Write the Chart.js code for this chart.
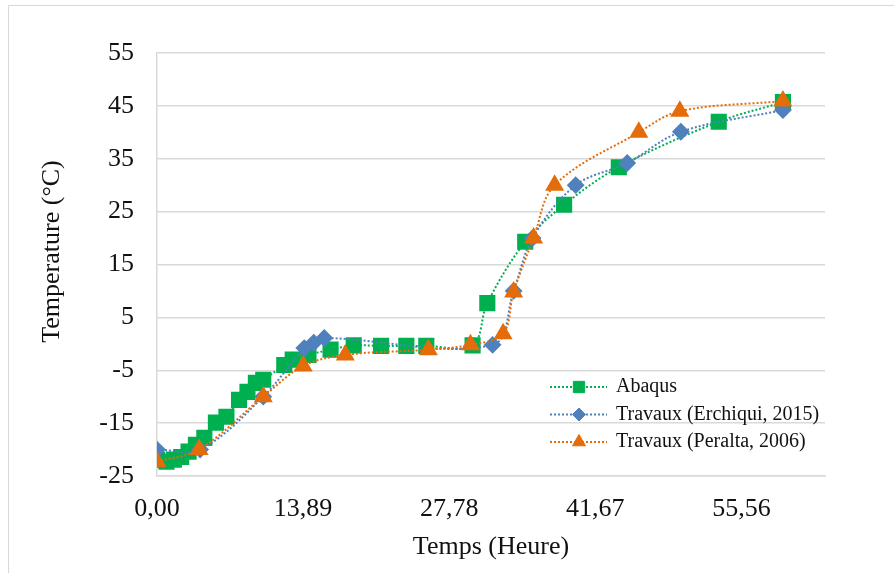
<!DOCTYPE html>
<html>
<head>
<meta charset="utf-8">
<script src="https://cdn.jsdelivr.net/npm/chart.js@4.4.1/dist/chart.umd.min.js"></script>
<style>
    body { margin: 0; background: #fff; }
    #frame { position: absolute; left: 8px; top: 5px; width: 900px; height: 600px; border: 1px solid #d9d9d9; }
    #chart { position: absolute; left: 0; top: 0; }
</style>
</head>
<body>
<div id="frame"></div>
<canvas id="chart" width="894" height="573"></canvas>
<script>
// Abaqus
const abaqusX = [0, 0.9, 1.6, 2.3, 3.0, 3.7, 4.5, 5.6, 6.6, 7.8, 8.6, 9.4, 10.1, 12.1, 12.9, 14.4, 16.5, 18.7, 21.3, 23.7, 25.6, 30.0, 31.4, 35.0, 38.7, 43.9, 53.4, 59.5];
const abaqusY = [-21.9, -22.3, -21.9, -21.4, -20.4, -19.1, -17.8, -14.9, -13.8, -10.6, -9.1, -7.4, -6.8, -4.0, -3.0, -2.1, -1.1, -0.3, -0.4, -0.4, -0.4, -0.3, 7.7, 19.3, 26.3, 33.4, 42.0, 45.7];

// Travaux (Erchiqui, 2015)
const erchiquiX = [0, 4.1, 10.1, 14.0, 14.9, 15.9, 31.9, 33.9, 35.7, 39.8, 44.7, 49.8, 59.5];
const erchiquiY = [-20, -20, -10, -0.8, 0.2, 1.1, -0.2, 10, 20, 30, 34.2, 40.1, 44.2];

// Travaux (Peralta, 2006)
const peraltaX = [0, 4.0, 10.1, 13.9, 17.9, 25.8, 29.8, 32.9, 33.9, 35.8, 37.8, 45.8, 49.7, 59.5];
const peraltaY = [-22.3, -20, -10, -4.2, -2.1, -1.1, -0.2, 1.9, 9.8, 20, 30, 40, 44, 45.9];

const seriesLabels = ["Abaqus", "Travaux (Erchiqui, 2015)", "Travaux (Peralta, 2006)"];
const xTickStep = 13.89;

function toPoints(xs, ys) {
    return xs.map((x, i) => ({ x: x, y: ys[i] }));
}

const SERIF = '"Liberation Serif", "Times New Roman", serif';
Chart.defaults.font.family = SERIF;
Chart.defaults.color = "#111";

const legendRadius = [8, 6.5, 7.5];

const insideLegend = {
    id: "insideLegend",
    afterDraw(chart) {
        const ctx = chart.ctx;
        const area = chart.chartArea;
        const x0 = area.left + 393;
        chart.data.datasets.forEach((ds, i) => {
            const y = area.top + 334 + i * 27.5;
            ctx.save();
            ctx.strokeStyle = ds.borderColor;
            ctx.lineWidth = 2;
            ctx.setLineDash([2, 2]);
            ctx.beginPath();
            ctx.moveTo(x0, y);
            ctx.lineTo(x0 + 57, y);
            ctx.stroke();
            ctx.restore();

            ctx.save();
            ctx.fillStyle = ds.backgroundColor;
            ctx.strokeStyle = ds.backgroundColor;
            Chart.helpers.drawPoint(ctx, { pointStyle: ds.pointStyle, radius: legendRadius[i], borderWidth: 1, rotation: 0 }, x0 + 29, y);
            ctx.restore();

            ctx.save();
            ctx.fillStyle = "#111";
            ctx.font = "20px " + SERIF;
            ctx.textBaseline = "middle";
            ctx.fillText(ds.label, x0 + 66, y);
            ctx.restore();
        });
    }
};

new Chart(document.getElementById("chart").getContext("2d"), {
    type: "line",
    data: {
        datasets: [{
            label: seriesLabels[0],
            data: toPoints(abaqusX, abaqusY),
            borderColor: "#00B050",
            backgroundColor: "#00B050",
            pointStyle: "rect",
            pointRadius: 10,
            borderWidth: 2,
            borderDash: [2, 2],
            tension: 0.35,
            order: 3
        }, {
            label: seriesLabels[1],
            data: toPoints(erchiquiX, erchiquiY),
            borderColor: "#4F81BD",
            backgroundColor: "#4F81BD",
            pointStyle: "rectRot",
            pointRadius: 7.5,
            borderWidth: 2,
            borderDash: [2, 2],
            tension: 0.35,
            order: 2
        }, {
            label: seriesLabels[2],
            data: toPoints(peraltaX, peraltaY),
            borderColor: "#E46C0A",
            backgroundColor: "#E46C0A",
            pointStyle: "triangle",
            pointRadius: 9,
            borderWidth: 2,
            borderDash: [2, 2],
            tension: 0.35,
            order: 1
        }]
    },
    options: {
        responsive: false,
        animation: false,
        layout: { padding: { top: 53, right: 69, left: 0, bottom: 0 } },
        plugins: {
            legend: { display: false },
            tooltip: { enabled: false }
        },
        scales: {
            x: {
                type: "linear",
                min: 0,
                max: 63.5,
                afterFit: s => { s.height = 97; },
                grid: { display: false, drawTicks: false },
                border: { display: true, color: "#d9d9d9", width: 1.5 },
                ticks: {
                    stepSize: xTickStep,
                    includeBounds: false,
                    autoSkip: false,
                    maxRotation: 0,
                    padding: 18,
                    font: { size: 26 },
                    callback: v => v.toFixed(2).replace(".", ",")
                },
                title: { display: true, text: "Temps (Heure)", font: { size: 26 }, padding: { top: 0, bottom: 10 } }
            },
            y: {
                min: -25,
                max: 55,
                afterFit: s => { s.width = 157; },
                grid: { color: "#d9d9d9", lineWidth: 1.5, drawTicks: false },
                border: { display: true, color: "#d9d9d9", width: 1.5 },
                ticks: { stepSize: 10, padding: 23, font: { size: 26 } },
                title: { display: true, text: "    Temperature (°C)", font: { size: 26 }, padding: { top: 37, bottom: 0 } }
            }
        }
    },
    plugins: [insideLegend]
});
</script>
</body>
</html>
